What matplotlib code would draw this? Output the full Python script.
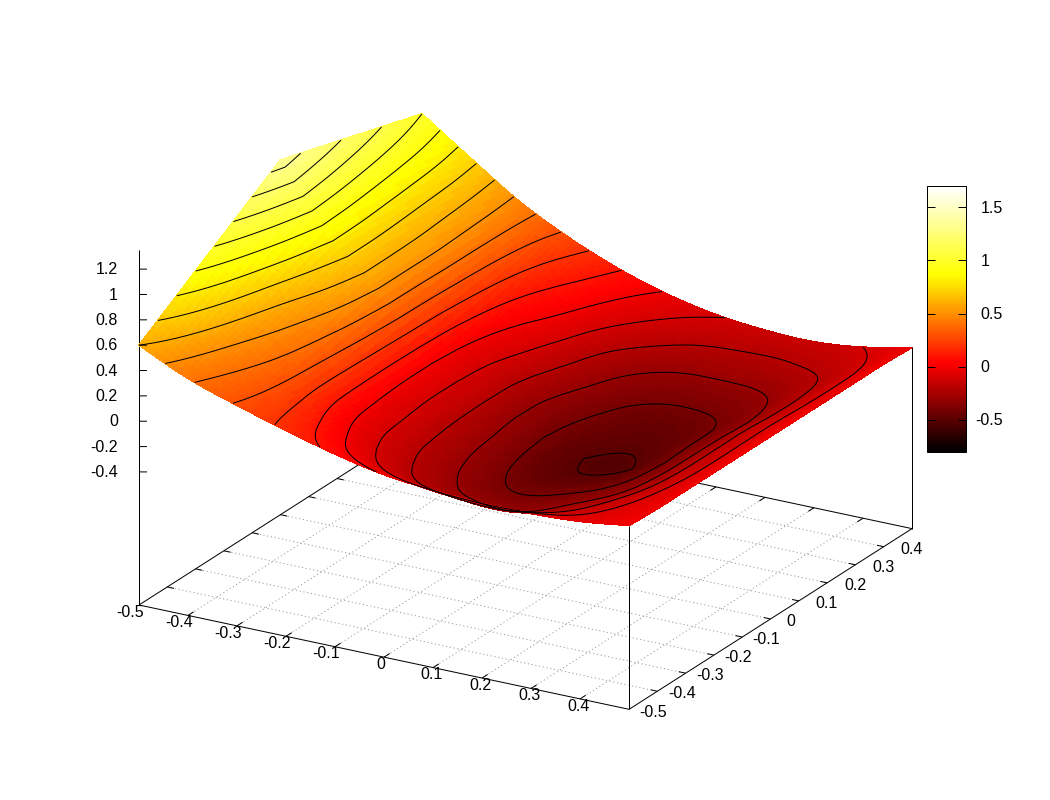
import numpy as np
import matplotlib
matplotlib.use("Agg")
import matplotlib.pyplot as plt
from matplotlib.colors import ListedColormap, Normalize
from matplotlib.cm import ScalarMappable
from mpl_toolkits.mplot3d import proj3d

plt.rcParams['font.family'] = ['Liberation Sans', 'DejaVu Sans']

# ---- data ----
x_nodes = [-0.5, -0.4, -0.3, -0.2, -0.1, 0.0, 0.1, 0.2, 0.3, 0.4, 0.5]
y_nodes = [-0.5, -0.4, -0.3, -0.2, -0.1, 0.0, 0.1, 0.2, 0.3, 0.4, 0.5]
# one list per x node, values along y_nodes
z_xm50 = [0.60, 0.75, 0.90, 1.05, 1.20, 1.35, 1.28, 1.21, 1.14, 1.07, 1.00]
z_xm40 = [0.42, 0.50, 0.58, 0.66, 0.75, 0.83, 0.82, 0.80, 0.78, 0.76, 0.73]
z_xm30 = [0.29, 0.33, 0.37, 0.41, 0.46, 0.50, 0.50, 0.50, 0.49, 0.48, 0.47]
z_xm20 = [0.175, 0.12, 0.06, 0.04, 0.03, 0.03, 0.05, 0.09, 0.14, 0.20, 0.27]
z_xm10 = [0.07, -0.06, -0.13, -0.15, -0.16, -0.16, -0.15, -0.10, -0.03, 0.04, 0.11]
z_x00 = [-0.01, -0.19, -0.26, -0.30, -0.32, -0.34, -0.33, -0.28, -0.22, -0.11, -0.01]
z_xp10 = [-0.05, -0.26, -0.36, -0.42, -0.47, -0.485, -0.45, -0.41, -0.33, -0.21, -0.09]
z_xp20 = [-0.07, -0.28, -0.36, -0.41, -0.47, -0.515, -0.48, -0.44, -0.35, -0.23, -0.13]
z_xp30 = [-0.07, -0.20, -0.27, -0.33, -0.36, -0.37, -0.37, -0.37, -0.32, -0.22, -0.14]
z_xp40 = [-0.05, -0.10, -0.14, -0.17, -0.18, -0.18, -0.18, -0.19, -0.19, -0.17, -0.10]
z_xp50 = [0.00, -0.01, -0.01, -0.01, -0.01, -0.01, -0.01, -0.01, -0.01, -0.01, -0.02]
contour_levels = [-0.5, -0.4, -0.3, -0.2, -0.1, 0.0, 0.1, 0.2, 0.3, 0.4, 0.5,
                  0.6, 0.7, 0.8, 0.9, 1.0, 1.1, 1.2, 1.3]
x_ticks = [-0.5, -0.4, -0.3, -0.2, -0.1, 0.0, 0.1, 0.2, 0.3, 0.4]
y_ticks = [-0.5, -0.4, -0.3, -0.2, -0.1, 0.0, 0.1, 0.2, 0.3, 0.4]
x_tick_labels = ['-0.5', '-0.4', '-0.3', '-0.2', '-0.1', '0', '0.1', '0.2', '0.3', '0.4']
y_tick_labels = ['-0.5', '-0.4', '-0.3', '-0.2', '-0.1', '0', '0.1', '0.2', '0.3', '0.4']
z_ticks = [-0.4, -0.2, 0.0, 0.2, 0.4, 0.6, 0.8, 1.0, 1.2]
z_tick_labels = ['-0.4', '-0.2', '0', '0.2', '0.4', '0.6', '0.8', '1', '1.2']
cb_ticks = [-0.5, 0.0, 0.5, 1.0, 1.5]
cb_tick_labels = ['-0.5', '0', '0.5', '1', '1.5']
x_range = (-0.5, 0.5)
y_range = (-0.5, 0.5)
z_range = (-1.45, 1.35)
cb_range = (-0.8, 1.7)

# ---- palette (rgbformulae 21,22,23) ----
g = np.linspace(0, 1, 128)
hot = ListedColormap(np.clip(np.column_stack([3 * g, 3 * g - 1, 3 * g - 2]), 0, 1))
norm = Normalize(*cb_range)


# ---- drawing-only refinement of the node table (like pm3d interpolate) ----
def refine(a, sub):
    """Catmull-Rom refinement along axis 0; passes through every node."""
    a = np.asarray(a, float)
    p = np.concatenate([[2 * a[0] - a[1]], a, [2 * a[-1] - a[-2]]])
    out = []
    for i in range(1, len(p) - 2):
        for k in range(sub):
            t = k / sub
            out.append(0.5 * (2 * p[i] + (p[i + 1] - p[i - 1]) * t
                              + (2 * p[i - 1] - 5 * p[i] + 4 * p[i + 1] - p[i + 2]) * t ** 2
                              + (3 * p[i] - p[i - 1] - 3 * p[i + 1] + p[i + 2]) * t ** 3))
    out.append(p[-2])
    return np.array(out)


Z_nodes = np.array([z_xm50, z_xm40, z_xm30, z_xm20, z_xm10, z_x00,
                    z_xp10, z_xp20, z_xp30, z_xp40, z_xp50])
SUB = 10
KINK = y_nodes.index(0.0)
Z_y = np.concatenate([refine(Z_nodes[:, :KINK + 1].T, SUB)[:-1],
                      refine(Z_nodes[:, KINK:].T, SUB)], axis=0).T
Zf = refine(Z_y, SUB)
xf = refine(x_nodes, SUB)
yf = refine(y_nodes, SUB)
Xf, Yf = np.meshgrid(xf, yf, indexing='ij')

W, H = 1050, 800
fig = plt.figure(figsize=(W / 100, H / 100), dpi=100, facecolor='white')
ax = fig.add_axes([0, 0, 1, 1], projection='3d', proj_type='ortho')
ax.apply_aspect = lambda position=None: None
ax.computed_zorder = False
ax.view_init(elev=30, azim=-60)
ax.set_xlim(*x_range)
ax.set_ylim(*y_range)
ax.set_zlim(*z_range)
ax.set_box_aspect((1, 1, 0.982))
ax.set_axis_off()
ax.patch.set_visible(False)

# fit the projected box onto the canvas
M = ax.get_proj()


def prj(x, y, z):
    u, v, _ = proj3d.proj_transform(x, y, z, M)
    return u, v


zb = z_range[0]
u0, v0 = prj(-0.5, -0.5, zb)
u1, v1 = prj(0.5, -0.5, zb)
u2, v2 = prj(0.5, 0.5, zb)
su = ((629 - 139) + (912 - 629)) / (u2 - u0)
sv = (((710 - 605) + (710 - 530)) / ((v0 - v1) + (v2 - v1)))
lu = ax.viewLim.intervalx
lv = ax.viewLim.intervaly
left = 139 + (lu[0] - u0) * su
bottom = (H - 605) + (lv[0] - v0) * sv
ax.set_position([left / W, bottom / H, (lu[1] - lu[0]) * su / W, (lv[1] - lv[0]) * sv / H])

LW = 0.72
GRID = '#a0a0a0'
DOT = (0, (1.2, 2.6))


def seg(xs, ys, zs, z=1, **kw):
    kw.setdefault('color', 'black')
    kw.setdefault('lw', LW)
    ax.plot(xs, ys, zs, zorder=z, solid_capstyle='butt', **kw)


# grid on the base plane
for t in x_ticks[1:]:
    seg([t, t], [-0.5, 0.5], [zb, zb], color=GRID, ls=DOT)
for t in y_ticks[1:]:
    seg([-0.5, 0.5], [t, t], [zb, zb], color=GRID, ls=DOT)

# base border and verticals
seg([-0.5, 0.5], [-0.5, -0.5], [zb, zb], z=1.5)
seg([0.5, 0.5], [-0.5, 0.5], [zb, zb], z=1.5)
seg([-0.5, -0.5], [-0.5, 0.5], [zb, zb], z=1.5)
seg([-0.5, 0.5], [0.5, 0.5], [zb, zb], z=1.5)
seg([-0.5, -0.5], [-0.5, -0.5], [zb, z_range[1]], z=1.5)
seg([0.5, 0.5], [-0.5, -0.5], [zb, z_xp50[0]], z=1.5)
seg([0.5, 0.5], [0.5, 0.5], [zb, z_xp50[-1]], z=1.5)

# ticks
TX, TY = 0.0137, 0.02
for t in x_ticks[1:]:
    seg([t, t], [-0.5, -0.5 + TY], [zb, zb], z=1.5)
    seg([t, t], [0.5, 0.5 - TY], [zb, zb], z=1.5)
for t in y_ticks[1:]:
    seg([0.5, 0.5 - TX], [t, t], [zb, zb], z=1.5)
    seg([-0.5, -0.5 + TX], [t, t], [zb, zb], z=1.5)
for t in z_ticks:
    seg([-0.5, -0.5 + 0.0122], [-0.5, -0.5 + 0.0071], [t, t], z=5)

# surface and contours
cell = 0.25 * (Zf[:-1, :-1] + Zf[1:, :-1] + Zf[:-1, 1:] + Zf[1:, 1:])
face = hot(norm(cell))
ax.plot_surface(Xf, Yf, Zf, facecolors=face, rstride=1, cstride=1, shade=False,
                antialiased=False, linewidth=0.4, zorder=2)
ax.contour(Xf, Yf, Zf, levels=contour_levels, colors='black', linewidths=LW,
           linestyles='solid', zorder=3)

# tick labels
FS = 11.5


def label(x, y, z, s, dx, dy, ha):
    u, v = prj(x, y, z)
    ax.annotate(s, xy=(u, v), xycoords='data', xytext=(dx, -dy), textcoords='offset pixels',
                ha=ha, va='center', fontsize=FS, color='black', annotation_clip=False)


for t, s in zip(x_ticks, x_tick_labels):
    dx = 5 if s.startswith('-') else (1 if s == '0' else 9.5)
    label(t, -0.5, zb, s, dx, 7.2, 'right')
for t, s in zip(y_ticks, y_tick_labels):
    dx = 10.5 if s.startswith('-') else (15.5 if s == '0' else 17)
    label(0.5, t, zb, s, dx, 2.7, 'left')
for t, s in zip(z_ticks, z_tick_labels):
    label(-0.5, -0.5, t, s, 118 - 139, 0.7, 'right')

# colour box
cax = fig.add_axes([927.3 / W, (H - 451.7) / H, 39 / W, 265.7 / H])
cb = fig.colorbar(ScalarMappable(norm=norm, cmap=hot), cax=cax, ticks=cb_ticks)
cb.outline.set_linewidth(LW)
cax.tick_params(axis='y', direction='in', length=5.76, width=LW, left=True, right=True,
                labelleft=False, labelright=False)
for t, s in zip(cb_ticks, cb_tick_labels):
    cax.annotate(s, xy=(1, t), xycoords=('axes fraction', 'data'),
                 xytext=(9 if s.startswith('-') else 14.5, -0.8), textcoords='offset pixels',
                 ha='left', va='center', fontsize=FS, color='black')

fig.savefig('out.png', dpi=100, facecolor='white')
